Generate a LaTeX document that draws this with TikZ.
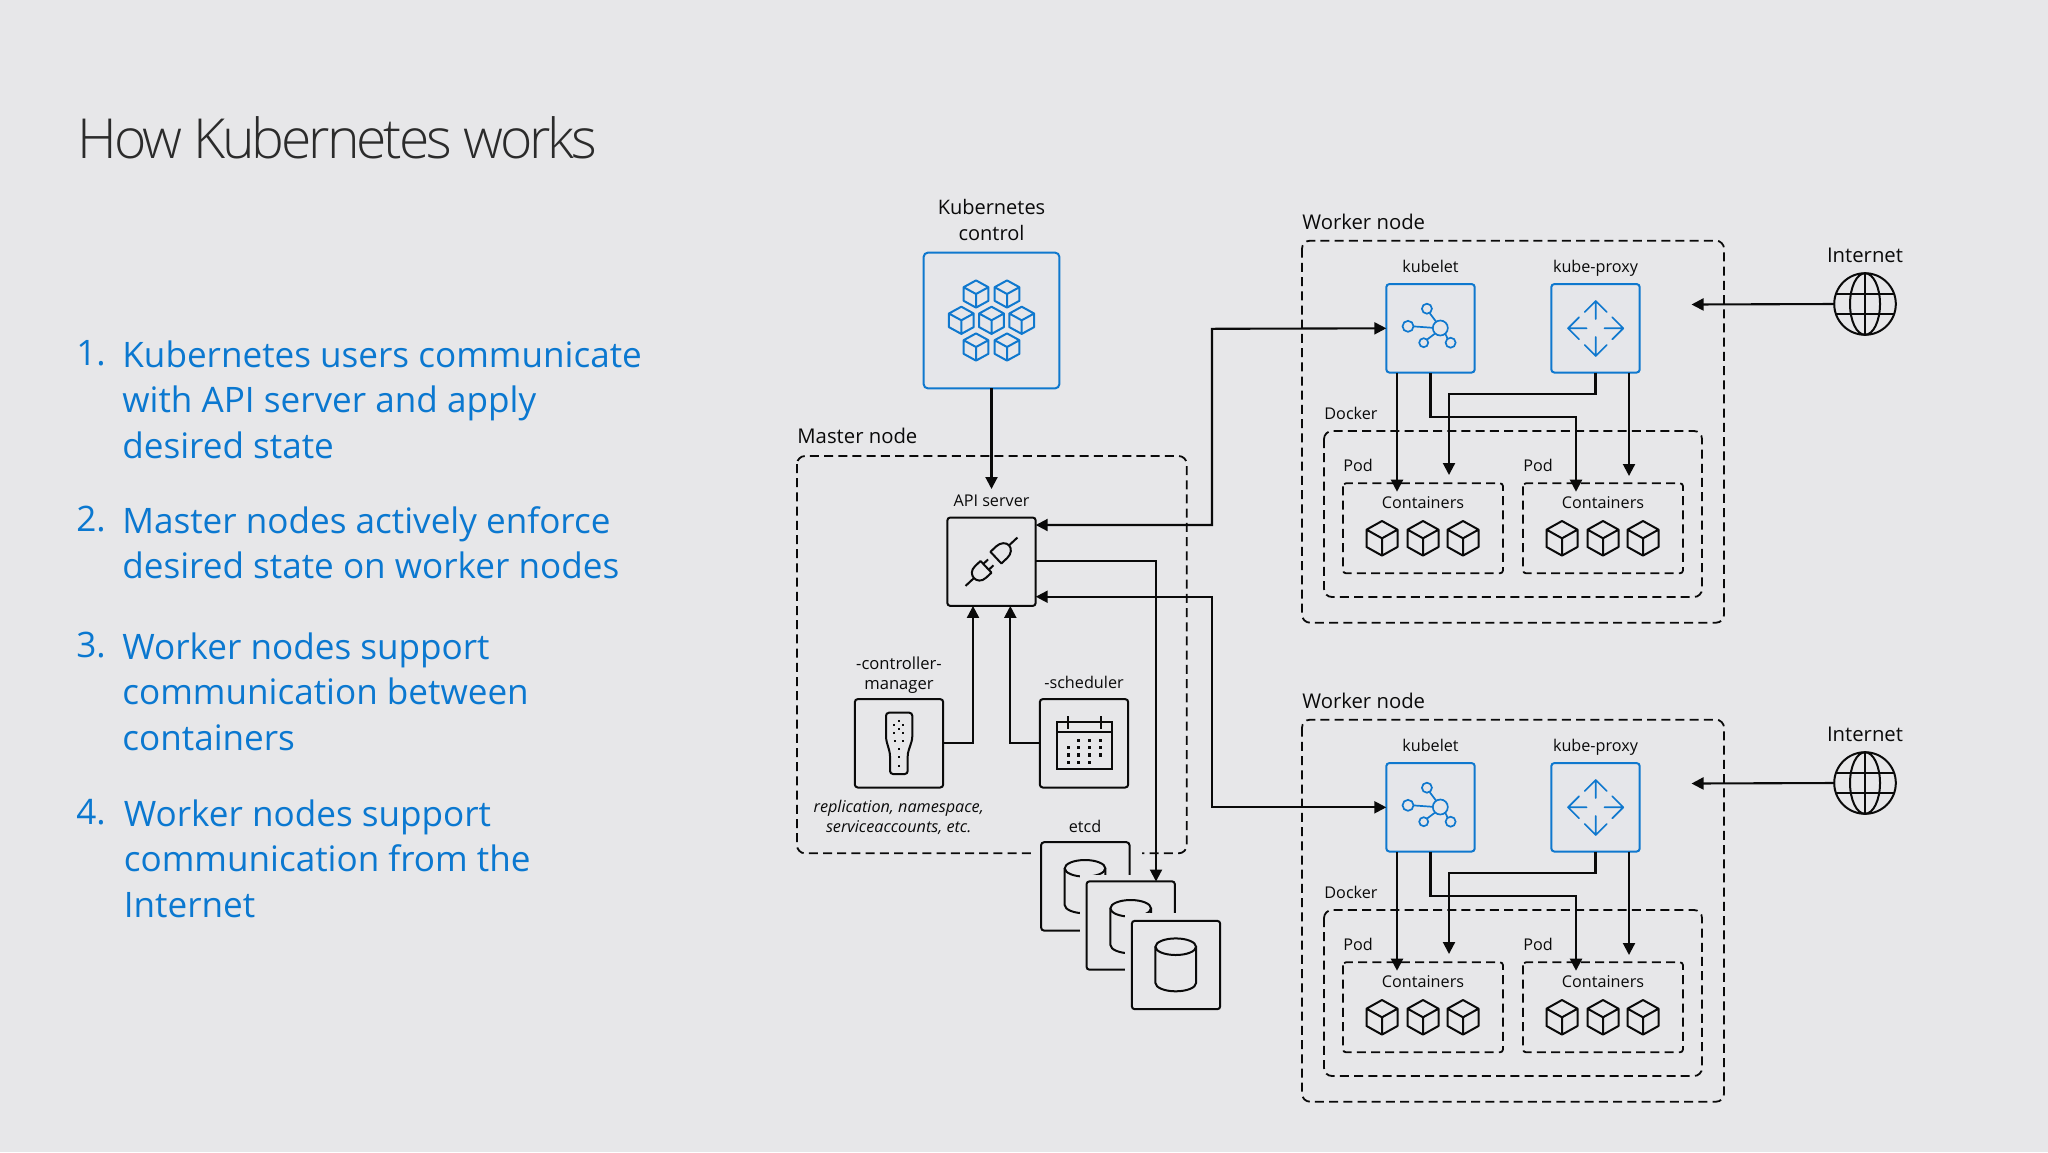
\documentclass[tikz,border=0pt]{standalone}
\usepackage{fontspec}
\setmainfont{Open Sans}
\newfontfamily\titlef[LetterSpace=-5.6]{Open Sans Light}
\usetikzlibrary{arrows.meta,calc}
\definecolor{bgc}{HTML}{E7E7E9}
\definecolor{bluec}{HTML}{0F78CE}
\definecolor{listc}{HTML}{0B78D0}
\definecolor{inkc}{HTML}{0A0A0A}
\definecolor{boxfill}{HTML}{E5E6EA}
\newcommand\fs[1]{\fontsize{#1}{#1}\selectfont}
\newcommand\cubeicon[5]{% x y hw hh color
  \draw[#5,line width=1pt,line join=round] (#1,#2-#4) -- (#1+#3,#2-#4/2) -- (#1+#3,#2+#4/2) -- (#1,#2+#4) -- (#1-#3,#2+#4/2) -- (#1-#3,#2-#4/2) -- cycle
    (#1-#3,#2-#4/2) -- (#1,#2) -- (#1+#3,#2-#4/2) (#1,#2) -- (#1,#2+#4);}
\newcommand\cylinder[3]{% cx top-y bottom-y
  \draw[inkc,line width=1pt] (#1,#2) ellipse [x radius=20.3,y radius=8.3];
  \draw[inkc,line width=1pt] (#1-20.3,#2) -- (#1-20.3,#3) arc[start angle=180,end angle=0,x radius=20.3,y radius=8.3] -- (#1+20.3,#2);}
\tikzset{
  px/.style={x=0.5pt,y=-0.5pt},
  arr/.style={inkc,line width=1.05pt,-{Triangle[length=6pt,width=6pt]}},
  conn/.style={inkc,line width=1.05pt},
  blackbox/.style={draw=inkc,line width=1pt,rounded corners=1.5pt,inner sep=0,outer sep=0,minimum size=44.2pt},
  bluebox/.style={draw=bluec,line width=1pt,rounded corners=1.5pt,inner sep=0,outer sep=0,minimum size=44.2pt,fill=boxfill},
  dashbox/.style={draw=inkc,line width=0.9pt,dash pattern=on 4.5pt off 2.6pt,rounded corners=4pt},
  podbox/.style={draw=inkc,line width=0.9pt,dash pattern=on 4.5pt off 2.6pt,rounded corners=1.5pt},
  small/.style={inkc,font=\fs{8.1},inner sep=0},
  evenlabel/.style={text height=6.2pt,text depth=1.8pt},
  big/.style={inkc,font=\fs{10.15},inner sep=0},
  listitem/.style={listc,inner sep=0,anchor=north west,align=left,font=\fontsize{17.55}{22.75}\selectfont},
  bluei/.style={bluec,line width=0.85pt},
  inki/.style={inkc,line width=1pt},
}
\begin{document}
\begin{tikzpicture}[px]
\useasboundingbox (0,0) rectangle (2048,1152);
\fill[bgc] (0,0) rectangle (2048,1152);
% title
\node[anchor=west,inner sep=0,text=inkc!85!bgc,font=\titlef\fs{27.6}] (title) at (77,138) {How Kubernetes works};
% list
\node[listitem] (n1) at (76,340) {1.};
\node[listitem] (t1) at (122,340) {Kubernetes users communicate\\with API server and apply\\desired state};
\node[listitem] (n2) at (76,506) {2.};
\node[listitem] (t2) at (122,506) {Master nodes actively enforce\\desired state on worker nodes};
\node[listitem] (n3) at (76,632) {3.};
\node[listitem] (t3) at (122,632) {Worker nodes support\\communication between\\containers};
\node[listitem] (n4) at (76,799) {4.};
\node[listitem] (t4) at (123.5,799) {Worker nodes support\\communication from the\\Internet};

% kubernetes control
\node[big,align=center,font=\fontsize{10}{13}\selectfont] (kclabel) at (991.5,220) {Kubernetes\\control};
\node[bluebox,minimum size=67.8pt,rounded corners=2pt] (kc) at (991.5,320.5) {};
\foreach \cx/\cy in {976/294,1007/294,961.3/320.3,991.5/320.3,1021.7/320.3,976/347,1007/347}
  {\cubeicon{\cx}{\cy}{12.4}{13.6}{bluec}}

% master
\node[big,anchor=west] (masterlabel) at (797,436) {Master node};
\draw[dashbox] (797,456) rectangle (1186.7,853.3);
\node[small] (apilabel) at (991.5,500.7) {API server};
\node[blackbox] (api) at (991.5,561.7) {};
\begin{scope}[shift={(991.5,561.7)},rotate=43]
  \draw[inki] (24,0) -- (35.5,0);
  \draw[inki,line join=round] (6,-8) -- (14,-8) .. controls (20,-8) and (24,-4) .. (24,0) .. controls (24,4) and (20,8) .. (14,8) -- (6,8) -- cycle;
  \draw[inki] (-24,0) -- (-35.5,0);
  \draw[inki,line join=round] (-7.5,-8) -- (-15,-8) .. controls (-21,-8) and (-24,-4) .. (-24,0) .. controls (-24,4) and (-21,8) .. (-15,8) -- (-7.5,8) -- cycle;
  \draw[inki] (-7.5,-4) -- (-1,-4) (-7.5,4) -- (-1,4);
\end{scope}

\node[small,align=center,font=\fontsize{8.3}{10}\selectfont] (cmlabel) at (899,674.7) {-controller-\\manager};
\node[blackbox] (cm) at (899,743.3) {};
\draw[inki,rounded corners=1.5pt] (886,739.3) -- (886,712.7) -- (912.3,712.7) -- (912.3,739.3) -- (907.7,753.3) -- (907.7,774) -- (890,774) -- (890,753.3) -- cycle;
\foreach \dx/\dy in {297/214,283/226,309/226,296/238,283/249,309/249,284/274,309/274,296/298,296/322,296/347}
  {\fill[inkc] ({800+\dx/3-1.1},{650+\dy/3-1.1}) rectangle ++(2.2,2.2);}
\node[small,align=center,font=\fontsize{8.1}{10}\selectfont\itshape] (replabel) at (898.7,817.7) {replication, namespace,\\serviceaccounts, etc.};

\node[small] (schlabel) at (1084,682.7) {-scheduler};
\node[blackbox] (sch) at (1084,743.3) {};
\draw[inki] (1057,722) rectangle (1111.7,769) (1057,732) -- (1111.7,732) (1068.3,716) -- (1068.3,729.3) (1100.7,716) -- (1100.7,729.3);
\foreach \dx/\dy in {836/272,869/272,902/272,805/293,836/293,869/293,902/293,805/315,836/315,869/315,902/315,805/337,836/337,869/337}
  {\fill[inkc] ({800+\dx/3-1.6},{650+\dy/3-1.6}) rectangle ++(3.2,3.2);}

% etcd
\node[small] (etcdlabel) at (1085,826) {etcd};
\fill[bgc] (1033,834) rectangle (1141.7,938);
\node[blackbox,fill=bgc] (etcd1) at (1085.3,886.4) {};
\cylinder{1085}{868.3}{905}
\fill[bgc] (1080,875) rectangle (1182,977);
\node[blackbox,fill=bgc] (etcd2) at (1130.7,925.5) {};
\cylinder{1130.7}{908.3}{945}
\fill[bgc] (1125,913) rectangle (1227,1016);
\node[blackbox,fill=bgc] (etcd3) at (1176,965) {};
\cylinder{1175.7}{946.7}{983}

% master connectors
\coordinate (kctip) at (991.5,489);
\draw[arr] (kc.south) -- (kctip);
\draw[arr] (cm.east) -| (api.south -| 973,0);
\draw[arr] (sch.west) -| (api.south -| 1010.3,0);
\coordinate (apiout) at (1035.7,561);
\coordinate (etcdin) at (1156,881.5);
\draw[arr] (apiout) -| (etcdin);

% workers
\foreach \w/\dy in {a/0,b/479}{
\begin{scope}[shift={(0,\dy)}]
  \node[big,anchor=west] (wlabel\w) at (1302,222) {Worker node};
  \draw[dashbox] (1302,240.7) rectangle (1724,622.7);
  \node[small,evenlabel] (kllabel\w) at (1430.5,268) {kubelet};
  \node[small,evenlabel] (kplabel\w) at (1595.5,268) {kube-proxy};
  \node[bluebox] (kubelet\w) at (1430.5,328.3) {};
  \node[bluebox] (proxy\w) at (1595.5,328.3) {};
  % kubelet icon
  \draw[bluei] (1440.3,328) circle (7.5);
  \draw[bluei] (1426.9,308.7) circle (5);
  \draw[bluei] (1408,326.3) circle (5.5);
  \draw[bluei] (1423.7,342.7) circle (4.5);
  \draw[bluei] (1450.6,342.7) circle (5);
  \draw[bluei] (1429.6,313) -- (1436.2,321.8) (1413.5,326.4) -- (1432.8,327.8) (1426.9,339.6) -- (1435,333.6) (1445.3,333.8) -- (1447.6,338.7);
  % proxy icon
  \draw[bluei,line cap=round,line join=round] (1595.7,301) -- (1595.7,319) (1584.7,312) -- (1595.7,301) -- (1606.7,312)
    (1595.7,337) -- (1595.7,356) (1584.7,345) -- (1595.7,356) -- (1606.7,345)
    (1568,328.3) -- (1586.6,328.3) (1579,317.3) -- (1568,328.3) -- (1579,339.3)
    (1604.5,328.3) -- (1623.3,328.3) (1612.3,317.3) -- (1623.3,328.3) -- (1612.3,339.3);
  % docker
  \node[small,anchor=west] (dockerlabel\w) at (1324,413) {Docker};
  \draw[dashbox] (1324,431) rectangle (1702,597);
  \node[small,anchor=west] (pod1label\w) at (1343,465.5) {Pod};
  \node[small,anchor=west] (pod2label\w) at (1523,465.5) {Pod};
  \draw[podbox] (1343,483.3) rectangle (1503,573.3);
  \draw[podbox] (1523,483.3) rectangle (1683,573.3);
  \node[small] (c1label\w) at (1423,503) {Containers};
  \node[small] (c2label\w) at (1603,503) {Containers};
  \foreach \cx in {1382,1423,1463,1562,1603,1643}
    {\cubeicon{\cx}{538.3}{15.5}{17.3}{inkc}}
  % internet
  \node[big] (inetlabel\w) at (1865,255) {Internet};
  \node[circle,draw=inkc,line width=1pt,minimum size=30.8pt,inner sep=0,outer sep=0] (globe\w) at (1865,304) {};
  \draw[inki] (1865,304) ellipse [x radius=15,y radius=30.8];
  \draw[inki] (globe\w.north) -- (globe\w.south);
  \draw[inki] (1836,294) -- (1894,294) (1836,314) -- (1894,314);
  \coordinate (inettip\w) at (1691.5,304.5);
  \draw[arr] (globe\w.west) -- (inettip\w);
  % worker arrows
  \coordinate (a1\w) at (1397,491.7);
  \coordinate (a2\w) at (1576,491.7);
  \coordinate (a3\w) at (1449,475);
  \coordinate (a4\w) at (1629,476);
  \draw[arr] (kubelet\w.south -| a1\w) -- (a1\w);
  \draw[arr] (kubelet\w.south) |- (1576,417) -- (a2\w);
  \draw[arr] (proxy\w.south) |- (1449,394) -- (a3\w);
  \draw[arr] (proxy\w.south -| a4\w) -- (a4\w);
\end{scope}
}
% API to workers
\coordinate (apiin1) at (1035.7,525);
\coordinate (apiin2) at (1035.7,596.7);
\draw[conn,{Triangle[length=6pt,width=6pt]}-{Triangle[length=6pt,width=6pt]}] (apiin1) -| (1212,328.8) -- (kubeleta.west);
\draw[conn,{Triangle[length=6pt,width=6pt]}-{Triangle[length=6pt,width=6pt]}] (apiin2) -| (1212,807.3) -- (kubeletb.west);
\end{tikzpicture}
\end{document}
